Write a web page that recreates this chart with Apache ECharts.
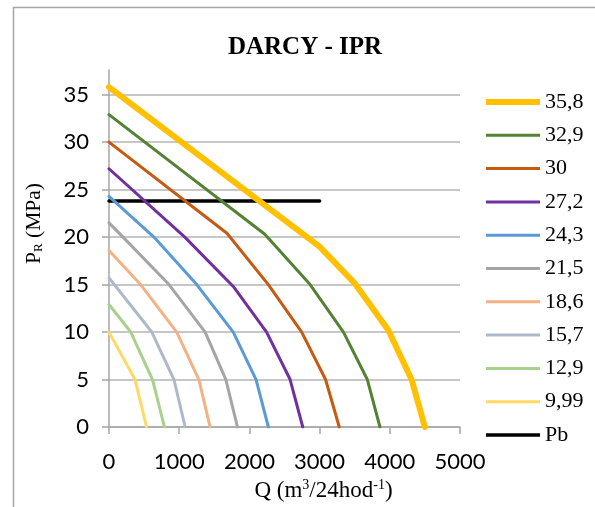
<!DOCTYPE html>
<html>
<head>
    <meta charset="utf-8"/>
    <title>DARCY - IPR</title>
    <script src="https://cdn.jsdelivr.net/npm/echarts@6/dist/echarts.min.js"></script>
    <style>
        html, body { margin: 0; padding: 0; background: #fff; }
        #chart { width: 595px; height: 507px; }
    </style>
</head>
<body>
<div id="chart"></div>
<script type="text/javascript">
    // legend names (reservoir pressure, MPa)
    var names = ['35,8', '32,9', '30', '27,2', '24,3', '21,5', '18,6', '15,7', '12,9', '9,99', 'Pb'];

    // Q (m3/day) and P (MPa) for each curve
    var q358 = [0, 3000, 3505, 3980, 4310, 4500];
    var p358 = [35.8, 19.0, 15.1, 10.2, 5.0, 0];
    var q329 = [0, 2220, 2865, 3340, 3680, 3860];
    var p329 = [32.9, 20.3, 15.0, 10.0, 5.0, 0];
    var q30 = [0, 1680, 2270, 2745, 3085, 3280];
    var p30 = [30, 20.4, 15.0, 10.0, 5.0, 0];
    var q272 = [0, 1080, 1770, 2245, 2580, 2760];
    var p272 = [27.2, 20.0, 14.8, 10.0, 5.0, 0];
    var q243 = [0, 640, 1250, 1770, 2095, 2270];
    var p243 = [24.3, 20.0, 15.0, 10.0, 5.0, 0];
    var q215 = [0, 200, 855, 1370, 1665, 1830];
    var p215 = [21.5, 20.0, 15.0, 10.0, 5.0, 0];
    var q186 = [0, 450, 965, 1280, 1440];
    var p186 = [18.6, 15.0, 10.0, 5.0, 0];
    var q157 = [0, 610, 925, 1085];
    var p157 = [15.7, 10.0, 5.0, 0];
    var q129 = [0, 310, 620, 790];
    var p129 = [12.9, 10.0, 5.0, 0];
    var q999 = [0, 370, 535];
    var p999 = [9.99, 5.0, 0];
    var qPb = [0, 3000];
    var pPb = [23.8, 23.8];

    var qs = [q358, q329, q30, q272, q243, q215, q186, q157, q129, q999, qPb];
    var ps = [p358, p329, p30, p272, p243, p215, p186, p157, p129, p999, pPb];

    var colors = ['#FFC000', '#548235', '#C55A11', '#7030A0', '#5B9BD5', '#A5A5A5',
                  '#F4B183', '#ADB9CA', '#A9D18E', '#FFD966', '#000000'];
    var widths = [6, 3, 3, 3, 3, 3, 3, 3, 3, 3, 3.5];

    // legend sample: a bar of the series' thickness inside a 54x14 box
    // (two zero-area anchors keep the box size)
    function legendIcon(w) {
        var y0 = 7 - w / 2, y1 = 7 + w / 2;
        return 'path://M0,0L0.01,0M0,14L0.01,14M0,' + y0 + 'L54,' + y0 + 'L54,' + y1 + 'L0,' + y1 + 'Z';
    }

    var series = [];
    var legendData = [];
    for (var i = 0; i < names.length; i++) {
        var pts = [];
        for (var k = 0; k < qs[i].length; k++) {
            pts.push([qs[i][k], ps[i][k]]);
        }
        series.push({
            name: names[i],
            type: 'line',
            data: pts,
            symbol: 'none',
            z: 20 - i,
            lineStyle: { color: colors[i], width: widths[i], cap: 'round', join: 'round' },
            itemStyle: { color: colors[i] }
        });
        legendData.push({ name: names[i], icon: legendIcon(widths[i]) });
    }

    var serif = '"Liberation Serif", "Times New Roman", serif';
    var sans = 'Lato, "Liberation Sans", sans-serif';
    var gridGray = '#B4B4B4';

    var myChart = echarts.init(document.getElementById('chart'));
    myChart.setOption({
        animation: false,
        backgroundColor: '#fff',
        title: {
            text: 'DARCY - IPR',
            left: 300,
            top: 30,
            textAlign: 'center',
            textStyle: { fontFamily: serif, fontWeight: 'bold', fontSize: 25, color: '#000' }
        },
        graphic: [{
            type: 'rect',
            shape: { x: 13.5, y: 7.5, width: 700, height: 600 },
            style: { fill: null, stroke: '#A6A6A6', lineWidth: 1.5 },
            silent: true
        }],
        legend: {
            orient: 'vertical',
            left: 481,
            top: 86,
            itemWidth: 54,
            itemHeight: 14,
            itemGap: 11.3,
            textStyle: { fontFamily: serif, fontSize: 22, color: '#000' },
            data: legendData
        },
        grid: { left: 109, right: 135, top: 70, bottom: 80, outerBoundsMode: 'none', containLabel: false },
        xAxis: {
            type: 'value',
            min: 0,
            max: 5000,
            interval: 1000,
            name: '{t|Q (m}{s|3}{t|/24hod}{s|-1}{t|)}',
            nameLocation: 'middle',
            nameGap: 51,
            nameTextStyle: {
                padding: [0, 0, 0, 78],
                rich: {
                    t: { fontFamily: serif, fontSize: 23, color: '#000' },
                    s: { fontFamily: serif, fontSize: 14, color: '#000', padding: [0, 0, 12, 0] }
                }
            },
            axisLine: { lineStyle: { color: '#A6A6A6', width: 1.5 } },
            axisTick: { show: true, length: 7, lineStyle: { color: '#A6A6A6', width: 1.5 } },
            axisLabel: {
                fontFamily: sans, fontSize: 22, color: '#000', margin: 24,
                formatter: function (v) { return String(v); }
            },
            splitLine: { show: false }
        },
        yAxis: {
            type: 'value',
            min: 0,
            max: 37.6,
            interval: 5,
            name: '{t|P}{s|R}{t| (MPa)}',
            nameLocation: 'middle',
            nameRotate: 90,
            nameGap: 64,
            nameTextStyle: {
                padding: [0, 0, 0, 50],
                rich: {
                    t: { fontFamily: serif, fontSize: 21.5, color: '#000' },
                    s: { fontFamily: serif, fontSize: 13, color: '#000', padding: [9, 0, 0, 0] }
                }
            },
            axisLine: { show: true, lineStyle: { color: '#A6A6A6', width: 1.5 } },
            axisTick: { show: true, length: 7, lineStyle: { color: '#A6A6A6', width: 1.5 } },
            axisLabel: { fontFamily: sans, fontSize: 22, color: '#000', margin: 20, showMaxLabel: false },
            splitLine: {
                show: true,
                lineStyle: {
                    color: [gridGray, gridGray, gridGray, gridGray, gridGray, gridGray, gridGray, gridGray, 'rgba(0,0,0,0)'],
                    width: 1.5
                }
            }
        },
        series: series
    });
</script>
</body>
</html>
